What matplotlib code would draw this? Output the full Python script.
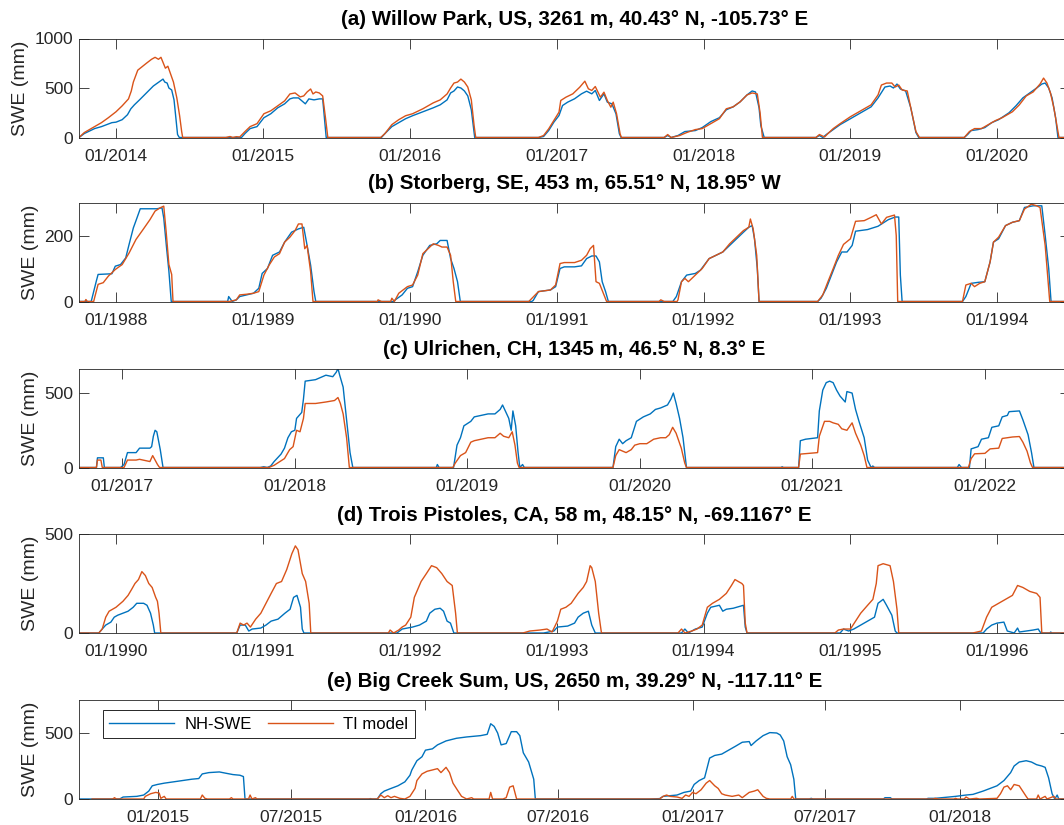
import matplotlib
matplotlib.use("Agg")
import matplotlib.pyplot as plt
import numpy as np

plt.rcParams['font.family'] = ['Liberation Sans', 'DejaVu Sans']

# ---- data: time in decimal years, SWE in mm ----
# (a) Willow Park
a_nh_t = [2013.748, 2013.784, 2013.854, 2013.901, 2013.972, 2014.000, 2014.042, 2014.078, 2014.101, 2014.125, 2014.160, 2014.207, 2014.254, 2014.301, 2014.320, 2014.332, 2014.348, 2014.360, 2014.379, 2014.395, 2014.407, 2014.419, 2014.431,
          2014.854, 2014.878, 2014.913, 2014.960, 2015.007, 2015.054, 2015.101, 2015.148, 2015.184, 2015.207, 2015.242, 2015.266, 2015.289, 2015.313, 2015.348, 2015.384, 2015.407, 2015.419, 2015.431,
          2015.807, 2015.831, 2015.878, 2015.925, 2015.972, 2016.019, 2016.089, 2016.160, 2016.207, 2016.254, 2016.278, 2016.301, 2016.325, 2016.348, 2016.372, 2016.395, 2016.419, 2016.442,
          2016.876, 2016.911, 2016.946, 2016.981, 2017.016, 2017.040, 2017.075, 2017.122, 2017.169, 2017.204, 2017.239, 2017.263, 2017.291, 2017.322, 2017.345, 2017.376, 2017.404, 2017.427, 2017.439,
          2017.732, 2017.756, 2017.779, 2017.826, 2017.873, 2017.944, 2017.991, 2018.049, 2018.108, 2018.155, 2018.202, 2018.249, 2018.296, 2018.331, 2018.354, 2018.378, 2018.390, 2018.413,
          2018.765, 2018.789, 2018.812, 2018.836, 2018.883, 2018.930, 2019.000, 2019.070, 2019.141, 2019.188, 2019.235, 2019.270, 2019.293, 2019.317, 2019.340, 2019.376, 2019.411, 2019.446, 2019.465,
          2019.775, 2019.798, 2019.822, 2019.869, 2019.915, 2019.962, 2020.009, 2020.080, 2020.127, 2020.174, 2020.221, 2020.268, 2020.303, 2020.326, 2020.350, 2020.373, 2020.397, 2020.413, 2020.495]
a_nh_v = [0, 40, 90, 110, 150, 155, 180, 230, 290, 330, 380, 450, 520, 570, 590, 560, 550, 500, 480, 380, 200, 30, 0,
          0, 40, 90, 110, 200, 240, 300, 340, 390, 400, 400, 370, 340, 390, 380, 390, 390, 200, 0,
          0, 40, 110, 150, 190, 220, 260, 300, 330, 380, 450, 470, 510, 500, 470, 420, 280, 0,
          0, 10, 71, 155, 222, 323, 357, 391, 441, 468, 441, 475, 374, 441, 357, 340, 239, 37, 0,
          0, 20, 0, 20, 60, 70, 100, 160, 200, 280, 310, 360, 430, 470, 460, 300, 120, 0,
          0, 20, 0, 30, 80, 130, 190, 250, 310, 400, 510, 520, 500, 540, 490, 470, 300, 50, 0,
          0, 30, 70, 80, 100, 150, 180, 250, 320, 400, 450, 500, 540, 550, 500, 400, 200, 0, 0]
a_ti_t = [2013.748, 2013.784, 2013.842, 2013.901, 2013.948, 2014.000, 2014.042, 2014.085, 2014.104, 2014.118, 2014.148, 2014.207, 2014.242, 2014.266, 2014.289, 2014.306, 2014.320, 2014.336, 2014.353, 2014.372, 2014.391, 2014.414, 2014.433, 2014.447, 2014.454,
          2014.748, 2014.776, 2014.795, 2014.819, 2014.842, 2014.878, 2014.913, 2014.960, 2015.007, 2015.054, 2015.101, 2015.148, 2015.184, 2015.219, 2015.254, 2015.278, 2015.301, 2015.325, 2015.341, 2015.360, 2015.384, 2015.407, 2015.426, 2015.442,
          2015.802, 2015.831, 2015.878, 2015.925, 2015.972, 2016.019, 2016.089, 2016.160, 2016.207, 2016.254, 2016.278, 2016.301, 2016.325, 2016.348, 2016.372, 2016.395, 2016.419, 2016.438, 2016.449,
          2016.876, 2016.911, 2016.946, 2016.981, 2017.016, 2017.028, 2017.063, 2017.110, 2017.157, 2017.192, 2017.216, 2017.239, 2017.263, 2017.298, 2017.322, 2017.345, 2017.369, 2017.385, 2017.408, 2017.432, 2017.441,
          2017.732, 2017.756, 2017.779, 2017.838, 2017.885, 2017.944, 2017.991, 2018.049, 2018.108, 2018.155, 2018.202, 2018.249, 2018.296, 2018.331, 2018.366, 2018.385, 2018.401,
          2018.765, 2018.789, 2018.824, 2018.847, 2018.883, 2018.930, 2019.000, 2019.070, 2019.141, 2019.188, 2019.211, 2019.246, 2019.282, 2019.305, 2019.329, 2019.352, 2019.387, 2019.411, 2019.446, 2019.470,
          2019.775, 2019.810, 2019.845, 2019.892, 2019.939, 2019.986, 2020.033, 2020.103, 2020.150, 2020.197, 2020.244, 2020.291, 2020.315, 2020.338, 2020.362, 2020.385, 2020.408, 2020.420, 2020.495]
a_ti_v = [0, 50, 100, 150, 200, 260, 320, 390, 470, 560, 680, 750, 790, 810, 790, 810, 760, 700, 720, 640, 560, 400, 220, 60, 0,
          0, 10, 0, 8, 5, 60, 110, 140, 240, 270, 320, 370, 440, 450, 410, 420, 460, 490, 440, 460, 450, 420, 200, 0,
          0, 40, 130, 180, 220, 240, 290, 350, 380, 440, 500, 550, 560, 590, 560, 510, 380, 120, 0,
          0, 20, 88, 172, 256, 374, 407, 441, 508, 569, 492, 475, 515, 407, 458, 374, 306, 357, 239, 37, 0,
          0, 30, 0, 20, 50, 80, 90, 140, 190, 290, 310, 360, 430, 450, 440, 250, 0,
          0, 30, 5, 40, 90, 140, 210, 270, 330, 430, 530, 550, 550, 510, 530, 480, 470, 300, 60, 0,
          0, 60, 90, 90, 130, 170, 200, 260, 330, 420, 460, 540, 600, 550, 450, 300, 100, 0, 0]

# (b) Storberg
b_nh_t = [1987.748, 1987.831, 1987.866, 1987.878, 1987.972, 1987.995, 1988.031, 1988.066, 1988.089, 1988.118, 1988.136, 1988.165, 1988.278, 1988.313, 1988.325, 1988.344, 1988.360, 1988.376,
          1988.760, 1988.767, 1988.791, 1988.819, 1988.842, 1988.889, 1988.936, 1988.972, 1988.995, 1989.031, 1989.066, 1989.113, 1989.148, 1989.195, 1989.242, 1989.278, 1989.301, 1989.325, 1989.348, 1989.360,
          1989.890, 1989.901, 1989.948, 1989.984, 1990.019, 1990.054, 1990.089, 1990.136, 1990.184, 1990.207, 1990.254, 1990.278, 1990.301, 1990.325, 1990.344,
          1990.830, 1990.840, 1990.876, 1990.958, 1990.993, 1991.023, 1991.052, 1991.122, 1991.169, 1991.204, 1991.239, 1991.268, 1991.291, 1991.310, 1991.333, 1991.352,
          1991.791, 1991.815, 1991.850, 1991.885, 1991.944, 1991.979, 1992.038, 1992.085, 1992.131, 1992.178, 1992.225, 1992.272, 1992.308, 1992.331, 1992.347, 1992.366, 1992.378,
          1992.777, 1992.800, 1992.836, 1992.871, 1992.906, 1992.941, 1992.977, 1993.012, 1993.035, 1993.117, 1993.188, 1993.258, 1993.305, 1993.329, 1993.340, 1993.352,
          1993.763, 1993.786, 1993.822, 1993.869, 1993.915, 1993.951, 1993.974, 1994.009, 1994.056, 1994.103, 1994.150, 1994.185, 1994.244, 1994.303, 1994.326, 1994.350, 1994.366, 1994.495]
b_nh_v = [0, 0, 62, 82, 84, 107, 112, 132, 173, 223, 245, 281, 281, 284, 253, 163, 92, 0,
          0, 15, 0, 5, 15, 20, 25, 40, 85, 100, 140, 150, 180, 210, 220, 225, 170, 110, 30, 0,
          0, 5, 20, 40, 45, 90, 140, 170, 175, 185, 185, 130, 100, 60, 0,
          0, 3, 30, 35, 45, 100, 105, 105, 108, 130, 138, 138, 120, 60, 30, 0,
          0, 15, 60, 80, 85, 95, 130, 140, 150, 170, 190, 210, 225, 230, 190, 100, 0,
          0, 10, 40, 80, 120, 150, 150, 170, 213, 218, 228, 248, 256, 256, 80, 0,
          0, 15, 55, 58, 60, 120, 180, 190, 230, 240, 245, 285, 290, 290, 200, 100, 0, 0]
b_ti_t = [1987.748, 1987.788, 1987.795, 1987.805, 1987.848, 1987.854, 1987.878, 1987.913, 1987.948, 1987.995, 1988.042, 1988.089, 1988.136, 1988.184, 1988.231, 1988.266, 1988.301, 1988.325, 1988.341, 1988.360, 1988.379, 1988.388,
          1988.772, 1988.819, 1988.842, 1988.889, 1988.936, 1988.972, 1989.007, 1989.042, 1989.078, 1989.113, 1989.148, 1989.184, 1989.219, 1989.242, 1989.266, 1989.285, 1989.301, 1989.325, 1989.341,
          1989.780, 1989.784, 1989.807, 1989.870, 1989.878, 1989.895, 1989.925, 1989.984, 1990.019, 1990.054, 1990.089, 1990.125, 1990.160, 1990.195, 1990.219, 1990.254, 1990.278, 1990.296, 1990.313,
          1990.810, 1990.817, 1990.876, 1990.958, 1990.993, 1991.023, 1991.052, 1991.122, 1991.169, 1991.204, 1991.228, 1991.251, 1991.268, 1991.291, 1991.322, 1991.340,
          1991.697, 1991.709, 1991.732, 1991.820, 1991.826, 1991.850, 1991.873, 1991.897, 1991.944, 1991.991, 1992.038, 1992.085, 1992.131, 1992.178, 1992.225, 1992.272, 1992.308, 1992.319, 1992.338, 1992.362, 1992.378,
          1992.777, 1992.812, 1992.847, 1992.883, 1992.918, 1992.953, 1993.000, 1993.035, 1993.094, 1993.141, 1993.176, 1993.211, 1993.246, 1993.300, 1993.312, 1993.322,
          1993.763, 1993.786, 1993.822, 1993.845, 1993.880, 1993.915, 1993.951, 1993.974, 1994.009, 1994.056, 1994.103, 1994.150, 1994.185, 1994.232, 1994.268, 1994.291, 1994.326, 1994.357, 1994.495]
b_ti_v = [0, 0, 6, 0, 0, 11, 52, 57, 77, 97, 112, 147, 188, 218, 248, 274, 284, 289, 213, 112, 82, 0,
          0, 5, 20, 22, 25, 30, 80, 110, 135, 145, 180, 195, 215, 235, 235, 160, 170, 90, 0,
          0, 5, 0, 0, 10, 0, 25, 45, 50, 80, 145, 160, 175, 170, 165, 165, 140, 60, 0,
          0, 3, 30, 35, 50, 115, 118, 118, 125, 140, 160, 170, 60, 55, 20, 0,
          0, 5, 0, 0, 5, 60, 70, 60, 80, 100, 130, 140, 150, 175, 195, 215, 225, 250, 220, 140, 0,
          0, 20, 60, 100, 140, 173, 190, 243, 245, 255, 263, 235, 255, 262, 200, 0,
          0, 50, 55, 45, 55, 60, 120, 180, 195, 230, 240, 245, 280, 295, 290, 285, 170, 0, 0]

# (c) Ulrichen
c_nh_t = [2016.749, 2016.850, 2016.856, 2016.890, 2016.896, 2016.990, 2017.010, 2017.030, 2017.080, 2017.100, 2017.160, 2017.170, 2017.180, 2017.190, 2017.200, 2017.220, 2017.236,
          2017.800, 2017.820, 2017.840, 2017.860, 2017.880, 2017.920, 2017.940, 2017.960, 2017.980, 2018.000, 2018.010, 2018.040, 2018.050, 2018.060, 2018.120, 2018.180, 2018.220, 2018.240, 2018.250, 2018.260, 2018.280, 2018.300, 2018.320, 2018.336,
          2018.820, 2018.826, 2018.836, 2018.920, 2018.940, 2018.960, 2018.980, 2019.020, 2019.040, 2019.080, 2019.120, 2019.160, 2019.190, 2019.204, 2019.220, 2019.240, 2019.254, 2019.264, 2019.280, 2019.294, 2019.304, 2019.320, 2019.330,
          2019.844, 2019.860, 2019.880, 2019.900, 2019.920, 2019.950, 2019.980, 2020.020, 2020.060, 2020.090, 2020.120, 2020.140, 2020.160, 2020.180, 2020.194, 2020.210, 2020.230, 2020.250, 2020.270,
          2020.820, 2020.824, 2020.832, 2020.920, 2020.930, 2020.960, 2021.030, 2021.040, 2021.060, 2021.080, 2021.100, 2021.120, 2021.140, 2021.160, 2021.190, 2021.200, 2021.230, 2021.250, 2021.270, 2021.300, 2021.320, 2021.340, 2021.350, 2021.360,
          2021.840, 2021.850, 2021.864, 2021.910, 2021.920, 2021.960, 2021.980, 2022.020, 2022.040, 2022.080, 2022.100, 2022.130, 2022.140, 2022.200, 2022.220, 2022.250, 2022.270, 2022.284, 2022.493]
c_nh_v = [0, 0, 65, 65, 0, 0, 20, 100, 100, 130, 130, 140, 210, 250, 240, 120, 0,
          0, 5, 0, 10, 40, 90, 130, 200, 240, 250, 330, 370, 460, 580, 590, 620, 610, 640, 665, 620, 540, 320, 100, 0,
          0, 20, 0, 0, 150, 200, 280, 310, 340, 350, 360, 360, 390, 420, 380, 330, 250, 380, 280, 100, 0, 20, 0,
          0, 140, 190, 160, 180, 200, 310, 340, 360, 390, 400, 410, 420, 460, 500, 430, 330, 200, 0,
          0, 5, 0, 0, 180, 190, 200, 380, 520, 570, 580, 570, 520, 480, 440, 510, 500, 390, 310, 200, 50, 0, 10, 0,
          0, 20, 0, 0, 125, 140, 190, 200, 270, 280, 340, 350, 375, 380, 320, 220, 100, 0, 0]
c_ti_t = [2016.749, 2016.850, 2016.856, 2016.876, 2016.884, 2017.010, 2017.030, 2017.080, 2017.100, 2017.160, 2017.176, 2017.190, 2017.204, 2017.216,
          2017.850, 2017.880, 2017.940, 2017.970, 2017.990, 2018.010, 2018.030, 2018.050, 2018.060, 2018.120, 2018.180, 2018.230, 2018.250, 2018.264, 2018.280, 2018.300, 2018.316,
          2018.916, 2018.930, 2018.960, 2018.990, 2019.020, 2019.040, 2019.080, 2019.120, 2019.160, 2019.190, 2019.210, 2019.240, 2019.260, 2019.276, 2019.290, 2019.300,
          2019.844, 2019.860, 2019.880, 2019.920, 2019.950, 2019.970, 2020.000, 2020.040, 2020.080, 2020.120, 2020.150, 2020.170, 2020.190, 2020.210, 2020.240, 2020.260, 2020.270,
          2020.920, 2020.930, 2020.980, 2021.030, 2021.040, 2021.070, 2021.100, 2021.120, 2021.150, 2021.170, 2021.200, 2021.230, 2021.250, 2021.280, 2021.300, 2021.316,
          2021.904, 2021.920, 2021.940, 2022.000, 2022.030, 2022.080, 2022.100, 2022.130, 2022.160, 2022.200, 2022.220, 2022.244, 2022.264, 2022.276, 2022.493]
c_ti_v = [0, 0, 50, 50, 0, 0, 50, 50, 55, 40, 80, 50, 20, 0,
          0, 15, 60, 120, 140, 250, 240, 330, 430, 430, 440, 450, 470, 430, 360, 200, 0,
          0, 30, 80, 100, 170, 180, 190, 200, 200, 230, 210, 200, 240, 150, 30, 0,
          0, 80, 120, 100, 120, 150, 160, 160, 190, 200, 200, 220, 270, 230, 130, 30, 0,
          0, 90, 95, 100, 210, 310, 310, 300, 290, 260, 250, 300, 230, 150, 80, 0,
          0, 60, 92, 95, 125, 130, 195, 200, 205, 208, 170, 110, 30, 0, 0]

# (d) Trois Pistoles
d_nh_t = [1989.748, 1989.883, 1989.906, 1989.930, 1989.965, 1989.988, 1990.012, 1990.047, 1990.082, 1990.117, 1990.141, 1990.188, 1990.211, 1990.235, 1990.254, 1990.263,
          1990.822, 1990.845, 1990.880, 1990.904, 1990.927, 1990.986, 1991.021, 1991.056, 1991.103, 1991.150, 1991.185, 1991.209, 1991.232, 1991.256, 1991.268, 1991.279,
          1991.913, 1991.948, 1992.019, 1992.066, 1992.113, 1992.136, 1992.171, 1992.207, 1992.230, 1992.254, 1992.277, 1992.300,
          1992.911, 1992.981, 1993.005, 1993.075, 1993.122, 1993.146, 1993.181, 1993.216, 1993.239, 1993.263,
          1993.850, 1993.873, 1993.897, 1993.944, 1993.991, 1994.026, 1994.049, 1994.108, 1994.131, 1994.155, 1994.202, 1994.272, 1994.284, 1994.296,
          1994.930, 1994.953, 1994.988, 1995.023, 1995.070, 1995.117, 1995.164, 1995.188, 1995.223, 1995.246, 1995.282, 1995.305, 1995.317,
          1995.904, 1995.927, 1995.962, 1995.998, 1996.045, 1996.068, 1996.092, 1996.115, 1996.138, 1996.150, 1996.197, 1996.244, 1996.279, 1996.291, 1996.303, 1996.357, 1996.364, 1996.371, 1996.495]
d_nh_v = [0, 0, 20, 40, 55, 80, 90, 100, 110, 130, 150, 150, 140, 100, 40, 0,
          0, 40, 40, 10, 20, 25, 40, 60, 70, 100, 120, 180, 190, 130, 20, 0,
          0, 20, 30, 40, 60, 100, 120, 125, 110, 60, 50, 0,
          0, 10, 30, 35, 50, 80, 100, 110, 40, 0,
          0, 20, 0, 20, 30, 100, 130, 140, 110, 120, 125, 140, 30, 0,
          0, 20, 10, 20, 40, 60, 80, 150, 170, 140, 90, 10, 0,
          0, 20, 40, 50, 55, 10, 5, 0, 25, 5, 10, 15, 20, 5, 0, 0, 5, 0, 0]
d_ti_t = [1989.748, 1989.883, 1989.906, 1989.930, 1989.953, 1990.000, 1990.047, 1990.082, 1990.106, 1990.129, 1990.153, 1990.176, 1990.200, 1990.223, 1990.246, 1990.270, 1990.282, 1990.293, 1990.305,
          1990.822, 1990.845, 1990.869, 1990.892, 1990.915, 1990.951, 1990.986, 1991.021, 1991.056, 1991.092, 1991.127, 1991.162, 1991.197, 1991.221, 1991.239, 1991.268, 1991.291, 1991.315, 1991.326,
          1991.854, 1991.866, 1991.890, 1991.925, 1991.948, 1991.972, 1992.007, 1992.031, 1992.054, 1992.077, 1992.113, 1992.148, 1992.183, 1992.218, 1992.254, 1992.289, 1992.312, 1992.324,
          1992.770, 1992.817, 1992.887, 1992.934, 1992.969, 1993.005, 1993.028, 1993.063, 1993.099, 1993.146, 1993.181, 1993.204, 1993.228, 1993.239, 1993.263, 1993.286, 1993.305,
          1993.826, 1993.850, 1993.873, 1993.920, 1993.955, 1993.991, 1994.026, 1994.061, 1994.108, 1994.155, 1994.190, 1994.214, 1994.237, 1994.261, 1994.272, 1994.284, 1994.296,
          1994.894, 1994.918, 1994.953, 1995.000, 1995.035, 1995.070, 1995.117, 1995.153, 1995.176, 1995.188, 1995.223, 1995.270, 1995.293, 1995.317, 1995.329,
          1995.833, 1995.892, 1995.927, 1995.962, 1996.009, 1996.056, 1996.103, 1996.138, 1996.174, 1996.221, 1996.268, 1996.291, 1996.303, 1996.495]
d_ti_v = [0, 0, 20, 80, 110, 130, 160, 190, 220, 250, 270, 310, 290, 250, 230, 180, 160, 100, 0,
          0, 50, 40, 50, 30, 70, 100, 150, 200, 250, 260, 320, 400, 440, 420, 300, 260, 150, 0,
          0, 15, 0, 15, 30, 40, 80, 180, 220, 260, 300, 340, 330, 300, 260, 240, 100, 0,
          0, 10, 15, 20, 5, 60, 120, 130, 150, 200, 230, 260, 340, 330, 260, 100, 0,
          0, 20, 0, 10, 20, 40, 130, 150, 170, 200, 240, 270, 260, 250, 240, 50, 0,
          0, 15, 20, 20, 60, 100, 140, 170, 250, 340, 350, 340, 260, 120, 0,
          0, 10, 80, 130, 150, 170, 190, 240, 230, 210, 200, 180, 0, 0]

# (e) Big Creek Sum
e_nh_t = [2014.704, 2014.856, 2014.869, 2014.920, 2014.946, 2014.965, 2014.978, 2014.997, 2015.023, 2015.075, 2015.126, 2015.152, 2015.165, 2015.190, 2015.229, 2015.254, 2015.280, 2015.306, 2015.319, 2015.325,
          2015.788, 2015.794, 2015.801, 2015.820, 2015.833, 2015.846, 2015.871, 2015.897, 2015.923, 2015.942, 2015.949, 2015.968, 2015.987, 2016.000, 2016.026, 2016.045, 2016.077, 2016.116, 2016.154, 2016.206, 2016.231, 2016.244, 2016.257, 2016.270, 2016.283, 2016.302, 2016.321, 2016.341, 2016.353, 2016.366, 2016.386, 2016.405, 2016.411,
          2016.838, 2016.876, 2016.889, 2016.915, 2016.941, 2016.967, 2016.992, 2017.005, 2017.024, 2017.044, 2017.063, 2017.082, 2017.108, 2017.134, 2017.160, 2017.185, 2017.211, 2017.218, 2017.237, 2017.263, 2017.288, 2017.314, 2017.327, 2017.340, 2017.353, 2017.366, 2017.378, 2017.385, 2017.436, 2017.443, 2017.449,
          2017.713, 2017.719, 2017.739, 2017.745, 2017.874, 2017.880, 2017.906, 2017.932, 2017.958, 2017.983, 2018.022, 2018.048, 2018.086, 2018.112, 2018.138, 2018.164, 2018.189, 2018.202, 2018.221, 2018.247, 2018.267, 2018.286, 2018.305, 2018.318, 2018.331, 2018.344, 2018.354, 2018.363, 2018.369, 2018.411]
e_nh_v = [0, 0, 15, 20, 30, 60, 100, 110, 120, 135, 150, 155, 190, 200, 205, 195, 185, 180, 170, 0,
          0, 3, 0, 0, 40, 60, 80, 100, 130, 180, 220, 290, 320, 370, 380, 410, 440, 460, 470, 480, 490, 570, 550, 500, 410, 420, 510, 510, 480, 350, 280, 150, 0,
          0, 3, 20, 25, 30, 50, 60, 110, 140, 160, 310, 330, 340, 370, 400, 430, 435, 405, 440, 480, 503, 500, 485, 440, 320, 260, 150, 0, 0, 5, 0,
          0, 10, 10, 0, 0, 5, 5, 10, 15, 20, 30, 35, 60, 80, 100, 140, 200, 250, 280, 290, 280, 260, 250, 240, 160, 40, 0, 30, 0, 0]
e_ti_t = [2014.753, 2014.830, 2014.837, 2014.843, 2014.946, 2014.952, 2014.972, 2014.991, 2015.004, 2015.010, 2015.023, 2015.030, 2015.158, 2015.165, 2015.175, 2015.184, 2015.267, 2015.274, 2015.280, 2015.338, 2015.344, 2015.351, 2015.364, 2015.370,
          2015.820, 2015.833, 2015.846, 2015.859, 2015.871, 2015.884, 2015.904, 2015.923, 2015.942, 2015.961, 2015.968, 2015.987, 2016.006, 2016.026, 2016.045, 2016.058, 2016.077, 2016.090, 2016.103, 2016.122, 2016.135, 2016.154, 2016.173, 2016.180, 2016.238, 2016.244, 2016.251, 2016.290, 2016.302, 2016.315, 2016.328, 2016.341,
          2016.876, 2016.889, 2016.902, 2016.915, 2016.941, 2016.960, 2016.973, 2016.986, 2016.999, 2017.012, 2017.031, 2017.050, 2017.063, 2017.082, 2017.095, 2017.108, 2017.121, 2017.147, 2017.172, 2017.185, 2017.211, 2017.230, 2017.243, 2017.263, 2017.275, 2017.288, 2017.366, 2017.372, 2017.378,
          2017.900, 2017.906, 2017.919, 2017.977, 2017.983, 2017.990, 2018.015, 2018.022, 2018.035, 2018.061, 2018.073, 2018.138, 2018.151, 2018.164, 2018.177, 2018.189, 2018.202, 2018.221, 2018.234, 2018.247, 2018.254, 2018.286, 2018.292, 2018.299, 2018.318, 2018.325, 2018.351, 2018.358, 2018.411]
e_ti_v = [0, 0, 10, 0, 0, 20, 40, 50, 45, 5, 20, 0, 0, 30, 5, 0, 0, 10, 0, 0, 30, 0, 10, 0,
          0, 30, 10, 25, 10, 20, 5, 0, 20, 80, 140, 190, 210, 220, 230, 200, 240, 200, 120, 60, 20, 0, 10, 0, 0, 50, 0, 0, 10, 90, 100, 0,
          0, 20, 30, 20, 15, 5, 30, 20, 50, 40, 70, 120, 140, 100, 80, 40, 30, 20, 30, 10, 50, 60, 70, 20, 5, 0, 0, 20, 0,
          0, 5, 0, 0, 5, 0, 0, 15, 0, 5, 0, 5, 40, 90, 100, 70, 110, 100, 60, 20, 0, 0, 30, 0, 20, 0, 20, 0, 0]

titles = ['(a) Willow Park, US, 3261 m, 40.43° N, -105.73° E',
          '(b) Storberg, SE, 453 m, 65.51° N, 18.95° W',
          '(c) Ulrichen, CH, 1345 m, 46.5° N, 8.3° E',
          '(d) Trois Pistoles, CA, 58 m, 48.15° N, -69.1167° E',
          '(e) Big Creek Sum, US, 2650 m, 39.29° N, -117.11° E']
xlims = [(2013.748, 2020.495), (1987.748, 1994.495), (2016.749, 2022.493),
         (1989.748, 1996.495), (2014.704, 2018.411)]
ylims = [1000, 300, 665, 500, 750]
yticks = [[0, 500, 1000], [0, 200], [0, 500], [0, 500], [0, 500]]
xticks = [[2014, 2015, 2016, 2017, 2018, 2019, 2020],
          [1988, 1989, 1990, 1991, 1992, 1993, 1994],
          [2017, 2018, 2019, 2020, 2021, 2022],
          [1990, 1991, 1992, 1993, 1994, 1995, 1996],
          [2015, 2015.496, 2016, 2016.497, 2017, 2017.496, 2018]]
xticklabels = [['01/2014', '01/2015', '01/2016', '01/2017', '01/2018', '01/2019', '01/2020'],
               ['01/1988', '01/1989', '01/1990', '01/1991', '01/1992', '01/1993', '01/1994'],
               ['01/2017', '01/2018', '01/2019', '01/2020', '01/2021', '01/2022'],
               ['01/1990', '01/1991', '01/1992', '01/1993', '01/1994', '01/1995', '01/1996'],
               ['01/2015', '07/2015', '01/2016', '07/2016', '01/2017', '07/2017', '01/2018']]
series = [(a_nh_t, a_nh_v, a_ti_t, a_ti_v), (b_nh_t, b_nh_v, b_ti_t, b_ti_v),
          (c_nh_t, c_nh_v, c_ti_t, c_ti_v), (d_nh_t, d_nh_v, d_ti_t, d_ti_v),
          (e_nh_t, e_nh_v, e_ti_t, e_ti_v)]

W, H = 1064, 825
fig = plt.figure(figsize=(W / 100, H / 100), dpi=100)
axc = '#262626'
tops = [38.5, 202.5, 368.5, 534, 700]

for i in range(5):
    top = tops[i]
    ax = fig.add_axes([79 / W, 1 - (top + 99) / H, 991 / W, 99 / H])
    nt, nv, tt, tv = series[i]
    l1, = ax.plot(np.array(nt), np.array(nv), color='#0072BD', lw=1.0, label='NH-SWE')
    l2, = ax.plot(np.array(tt), np.array(tv), color='#D95319', lw=1.0, label='TI model')
    ax.set_xlim(*xlims[i])
    ax.set_ylim(0, ylims[i])
    ax.set_yticks(yticks[i])
    ax.set_xticks(xticks[i], xticklabels[i])
    ax.tick_params(direction='in', length=7.5, width=0.6, top=True, right=True,
                   labelsize=12.6, pad=4, colors=axc)
    ax.tick_params(axis='x', pad=8)
    for s in ax.spines.values():
        s.set_color(axc)
        s.set_linewidth(0.6)
    ax.set_ylabel('SWE (mm)', fontsize=14, color=axc, labelpad=4)
    ax.set_title(titles[i], fontsize=14.8, fontweight='bold', pad=9.5)
    if i == 4:
        leg = ax.legend(handles=[l1, l2], loc='upper left', bbox_to_anchor=(0.024, 0.898),
                        borderaxespad=0, ncol=2, fontsize=12, handlelength=3.9,
                        handletextpad=0.6, columnspacing=1.0, fancybox=False,
                        framealpha=1, edgecolor=axc)
        leg.get_frame().set_linewidth(0.7)

fig.savefig('out.png', dpi=100)
